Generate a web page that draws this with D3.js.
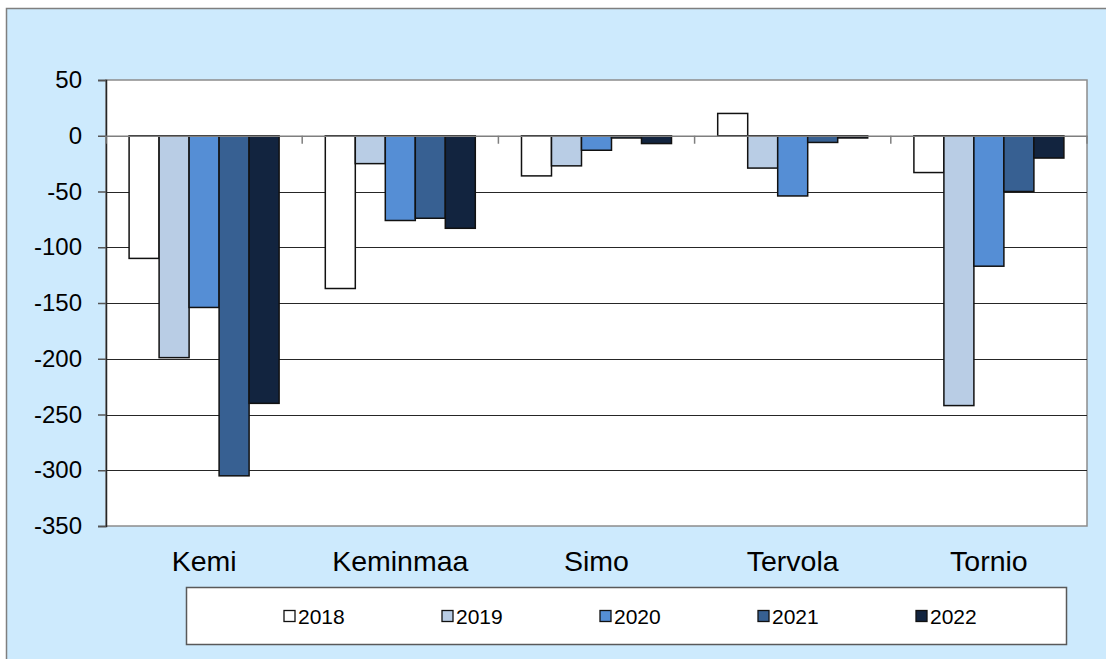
<!DOCTYPE html>
<html>
<head>
<meta charset="utf-8">
<script src="https://cdn.jsdelivr.net/npm/d3@7"></script>
<style>
  body { margin: 0; background: #fff; }
  text { font-family: "Liberation Sans", Arial, sans-serif; fill: #000; }
</style>
</head>
<body>
<svg id="chart" width="1106" height="659"></svg>
<script>
// data
var categories = ["Kemi", "Keminmaa", "Simo", "Tervola", "Tornio"];
var years = ["2018", "2019", "2020", "2021", "2022"];
var v2018 = [-110, -137, -36, 20, -33];
var v2019 = [-199, -25, -27, -29, -242];
var v2020 = [-154, -76, -13, -54, -117];
var v2021 = [-305, -74, -2, -6, -50];
var v2022 = [-240, -83, -7, -2, -20];
var yTicks = [50, 0, -50, -100, -150, -200, -250, -300, -350];
var colors = ["#ffffff", "#b9cde5", "#558ed5", "#376092", "#12243f"];

var series = [v2018, v2019, v2020, v2021, v2022];
var W = 1106, H = 659;
var plot = {left: 106, right: 1087, top: 80, bottom: 526};

var svg = d3.select("#chart");

// outer chart area
svg.append("rect")
  .attr("x", 6.5).attr("y", 8.5)
  .attr("width", W + 10).attr("height", H + 10)
  .attr("fill", "#cdeafd")
  .attr("stroke", "#7f7f7f").attr("stroke-width", 1.5);

svg.append("rect")
  .attr("x", plot.left).attr("y", plot.top)
  .attr("width", plot.right - plot.left).attr("height", plot.bottom - plot.top)
  .attr("fill", "#fff")
  .attr("stroke", "#8c8c8c").attr("stroke-width", 1.5);

var y = d3.scaleLinear().domain([-350, 50]).range([plot.bottom, plot.top]);
var x0 = d3.scaleBand().domain(categories).range([plot.left, plot.right]);
var x1 = d3.scaleBand().domain(years).range([0, x0.bandwidth()])
  .paddingInner(0).paddingOuter(0.77);

// gridlines
svg.append("g").selectAll("line")
  .data(yTicks.filter(function(d) { return d > -350 && d < 50 && d !== 0; }))
  .enter().append("line")
  .attr("x1", plot.left).attr("x2", plot.right)
  .attr("y1", function(d) { return Math.round(y(d)) + 0.5; })
  .attr("y2", function(d) { return Math.round(y(d)) + 0.5; })
  .attr("stroke", "#262626").attr("stroke-width", 1);

// y axis
var yAxis = d3.axisLeft(y).tickValues(yTicks).tickSize(8).tickPadding(16)
  .tickFormat(d3.format("d"));
var gy = svg.append("g").attr("transform", "translate(" + plot.left + ",0)").call(yAxis);
gy.select(".domain").attr("stroke", "#262626").attr("stroke-width", 1.5);
gy.selectAll(".tick line").attr("stroke", "#555").attr("stroke-width", 1.5);
gy.selectAll(".tick text")
  .style("font-family", "'Liberation Sans', Arial, sans-serif")
  .style("font-size", "24px").attr("fill", "#000")
  .text(function(d) { return d < 0 ? "-" + Math.abs(d) : d; });

// bars
var groups = svg.append("g").selectAll("g")
  .data(categories)
  .enter().append("g")
  .attr("transform", function(d) { return "translate(" + x0(d) + ",0)"; });

groups.selectAll("rect")
  .data(function(c, ci) {
    return years.map(function(yr, si) { return {year: yr, value: series[si][ci], color: colors[si]}; });
  })
  .enter().append("rect")
  .attr("x", function(d) { return x1(d.year); })
  .attr("width", x1.bandwidth())
  .attr("y", function(d) { return y(Math.max(0, d.value)); })
  .attr("height", function(d) { return Math.abs(y(d.value) - y(0)); })
  .attr("fill", function(d) { return d.color; })
  .attr("stroke", "#111").attr("stroke-width", 1.5);

// zero axis with category ticks
var xAxis = d3.axisBottom(x0).tickSize(0).tickFormat("");
var gx = svg.append("g").attr("transform", "translate(0," + y(0) + ")").call(xAxis);
gx.select(".domain").attr("stroke", "#7f7f7f").attr("stroke-width", 1.5);
gx.selectAll(".tick").remove();
gx.selectAll(".sep")
  .data(categories.map(function(c) { return x0(c); }).concat([plot.right]))
  .enter().append("line").attr("class", "sep")
  .attr("x1", function(d) { return d; }).attr("x2", function(d) { return d; })
  .attr("y1", 0).attr("y2", 8)
  .attr("stroke", "#7f7f7f").attr("stroke-width", 1.5);

// category labels
svg.append("g").selectAll("text")
  .data(categories)
  .enter().append("text")
  .attr("x", function(d) { return x0(d) + x0.bandwidth() / 2; })
  .attr("y", 570.5)
  .attr("text-anchor", "middle")
  .style("font-size", "28.5px")
  .text(function(d) { return d; });

// legend
svg.append("rect")
  .attr("x", 186.5).attr("y", 587.5)
  .attr("width", 880).attr("height", 57)
  .attr("fill", "#fff")
  .attr("stroke", "#595959").attr("stroke-width", 1.5);

var lx = d3.scalePoint().domain(years).range([284, 916]);
var items = svg.append("g").selectAll("g")
  .data(years)
  .enter().append("g")
  .attr("transform", function(d) { return "translate(" + lx(d) + ",616)"; });
items.append("rect")
  .attr("x", 0).attr("y", -5.5).attr("width", 11).attr("height", 11)
  .attr("fill", function(d, i) { return colors[i]; })
  .attr("stroke", "#111").attr("stroke-width", 1.3);
items.append("text")
  .attr("x", 14).attr("y", 7.5)
  .style("font-size", "21px")
  .text(function(d) { return d; });
</script>
</body>
</html>
